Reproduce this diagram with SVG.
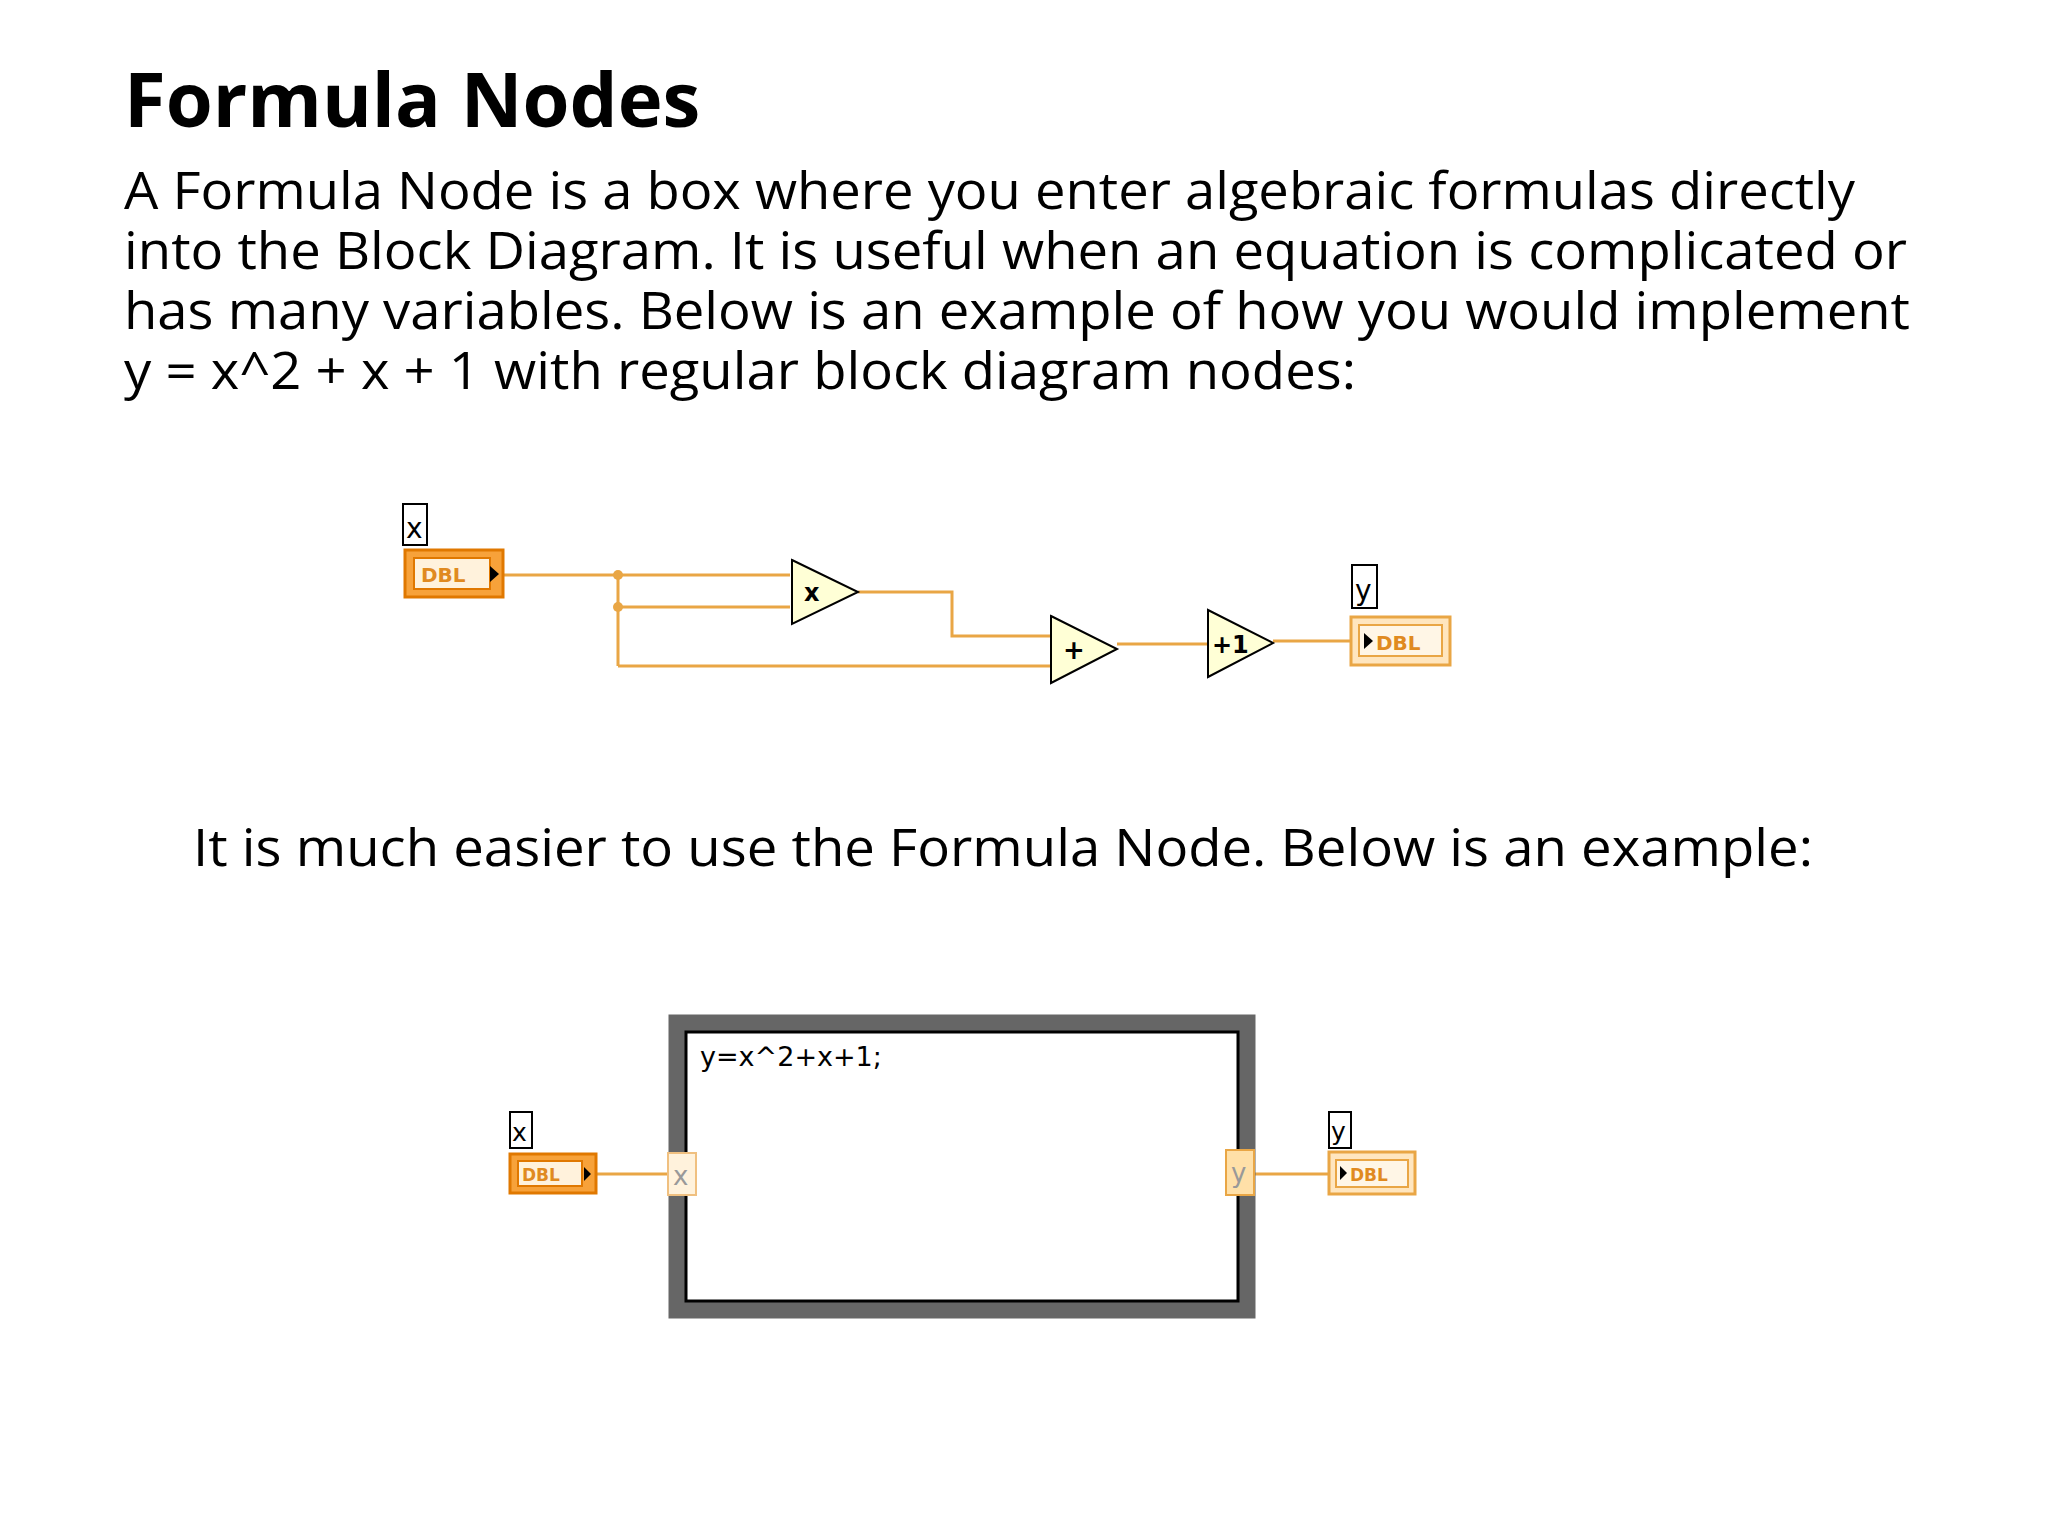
<svg xmlns="http://www.w3.org/2000/svg" width="2048" height="1536" viewBox="0 0 2048 1536">
<style>
.t{font-family:"Open Sans","Noto Sans",sans-serif;fill:#000}
.body{font-size:51px}
.w{fill:none;stroke:#E9A645;stroke-width:3}
.tri{fill:#FFFFD6;stroke:#000;stroke-width:2}
.lbl{fill:#fff;stroke:#000;stroke-width:2}
.ctl{fill:#F7A23A;stroke:#E07800;stroke-width:3}
.ind{fill:#FFE6BF;stroke:#E9A645;stroke-width:3}
.dbl{font-family:"DejaVu Sans",sans-serif;font-weight:bold;fill:#E08A20}
.sm{font-family:"DejaVu Sans",sans-serif;fill:#000}
</style>
<rect width="2048" height="1536" fill="#fff"/>
<text class="t" x="124" y="127" font-size="76" font-weight="bold">Formula Nodes</text>
<text class="t body" x="124" y="209" textLength="1731" lengthAdjust="spacingAndGlyphs">A Formula Node is a box where you enter algebraic formulas directly</text>
<text class="t body" x="124" y="269" textLength="1783" lengthAdjust="spacingAndGlyphs">into the Block Diagram. It is useful when an equation is complicated or</text>
<text class="t body" x="124" y="329" textLength="1786" lengthAdjust="spacingAndGlyphs">has many variables. Below is an example of how you would implement</text>
<text class="t body" x="124" y="389" textLength="1232" lengthAdjust="spacingAndGlyphs">y = x^2 + x + 1 with regular block diagram nodes:</text>
<text class="t body" x="193" y="866" textLength="1620" lengthAdjust="spacingAndGlyphs">It is much easier to use the Formula Node. Below is an example:</text>

<g id="connectors">
<path class="w" d="M504 575 H790 M618 575 V666 M618 607 H790 M618 666 H1051 M858 592 H952 V636 H1051 M1117 644 H1207 M1273 641 H1350"/>
<circle cx="618" cy="575" r="5" fill="#E9A645"/>
<circle cx="618" cy="607" r="5" fill="#E9A645"/>
<path class="w" d="M597 1174 H667 M1255 1174 H1328"/>
</g>

<g id="x-control">
<rect class="lbl" x="403" y="504" width="24" height="41"/>
<text class="sm" x="406" y="538" font-size="28">x</text>
<rect class="ctl" x="405" y="550" width="98" height="47"/>
<rect x="414" y="558" width="76" height="31" fill="#FFF2DC" stroke="#E07800" stroke-width="2"/>
<text class="dbl" x="421" y="582" font-size="20">DBL</text>
<path d="M490 566 L499 574 L490 582Z" fill="#000"/>
</g>
<g id="multiply">
<path class="tri" d="M792 560 L858 592 L792 624Z"/>
<text class="sm" x="804" y="601" font-size="24" font-weight="bold">x</text>
</g>
<g id="add">
<path class="tri" d="M1051 616 L1117 649 L1051 683Z"/>
<text class="sm" x="1063" y="659" font-size="26" font-weight="bold">+</text>
</g>
<g id="increment">
<path class="tri" d="M1208 610 L1273 643 L1208 677Z"/>
<text class="sm" x="1212" y="653" font-size="24" font-weight="bold">+1</text>
</g>
<g id="y-indicator">
<rect class="lbl" x="1352" y="565" width="25" height="43"/>
<text class="sm" x="1355" y="600" font-size="28">y</text>
<rect class="ind" x="1351" y="617" width="99" height="48"/>
<rect x="1359" y="625" width="83" height="31" fill="#FFF6E6" stroke="#E9A645" stroke-width="2"/>
<path d="M1364 633 L1373 641 L1364 649Z" fill="#000"/>
<text class="dbl" x="1376" y="650" font-size="20">DBL</text>
</g>

<g id="formula-node">
<rect x="677" y="1023" width="570" height="287" fill="none" stroke="#666" stroke-width="17"/>
<rect x="686" y="1032" width="552" height="269" fill="#fff" stroke="#000" stroke-width="3"/>
<text class="sm" x="700" y="1066" font-size="27">y=x^2+x+1;</text>
</g>
<g id="x-control-2">
<rect class="lbl" x="510" y="1112" width="22" height="36"/>
<text class="sm" x="512" y="1141" font-size="25">x</text>
<rect class="ctl" x="510" y="1154" width="86" height="39"/>
<rect x="518" y="1161" width="64" height="25" fill="#FFF2DC" stroke="#E07800" stroke-width="2"/>
<text class="dbl" x="522" y="1181" font-size="17">DBL</text>
<path d="M584 1167 L591 1174 L584 1181Z" fill="#000"/>
</g>
<g id="x-tunnel">
<rect x="668" y="1153" width="28" height="42" fill="#FFF2DC" stroke="#F0C080" stroke-width="2"/>
<text x="673" y="1185" font-size="26" font-family="DejaVu Sans,sans-serif" fill="#999">x</text>
</g>
<g id="y-tunnel">
<rect x="1226" y="1150" width="28" height="45" fill="#FFE0A8" stroke="#E9A645" stroke-width="2"/>
<text x="1231" y="1182" font-size="26" font-family="DejaVu Sans,sans-serif" fill="#999">y</text>
</g>
<g id="y-indicator-2">
<rect class="lbl" x="1329" y="1112" width="22" height="36"/>
<text class="sm" x="1331" y="1140" font-size="25">y</text>
<rect class="ind" x="1329" y="1152" width="86" height="42"/>
<rect x="1336" y="1160" width="72" height="27" fill="#FFF6E6" stroke="#E9A645" stroke-width="2"/>
<path d="M1340 1166 L1347 1173 L1340 1180Z" fill="#000"/>
<text class="dbl" x="1350" y="1181" font-size="17">DBL</text>
</g>
</svg>
